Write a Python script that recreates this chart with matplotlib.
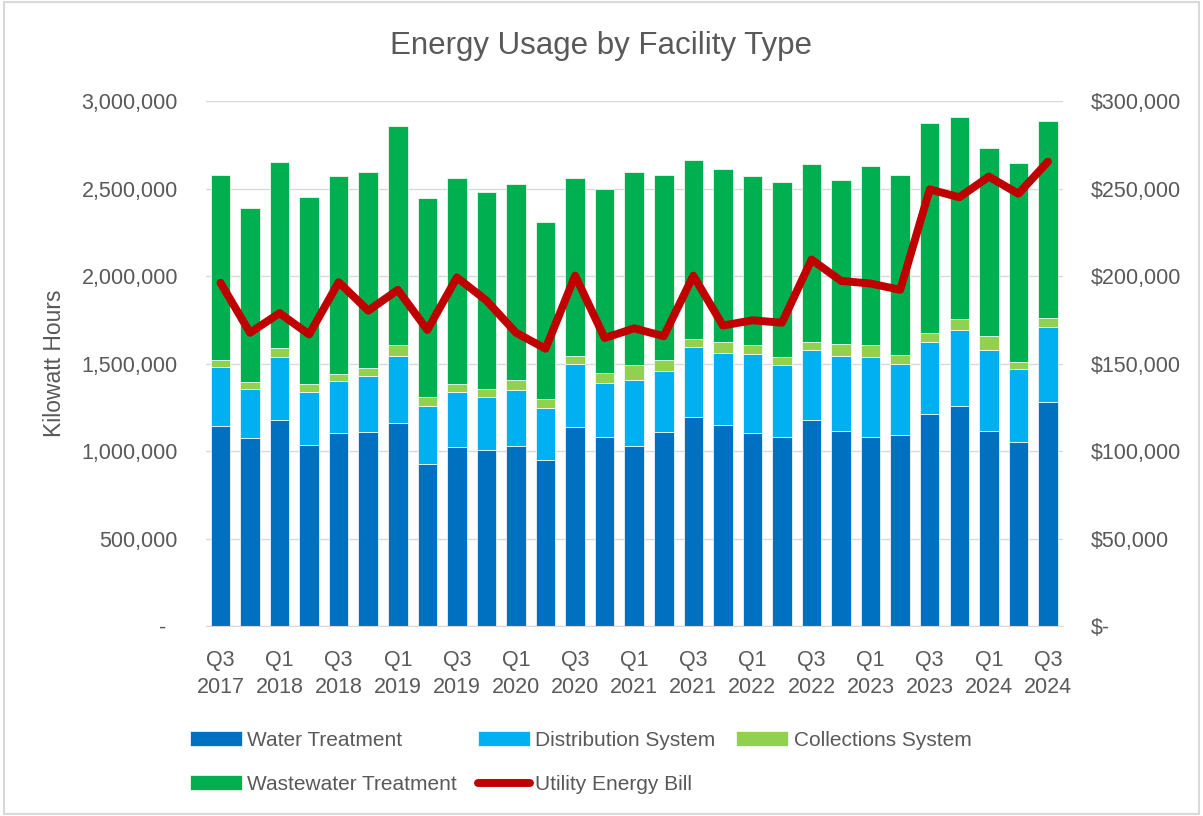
import numpy as np
import matplotlib.pyplot as plt
from matplotlib.patches import Rectangle
from matplotlib.ticker import FuncFormatter

plt.rcParams['font.family'] = ['Liberation Sans', 'DejaVu Sans']

# Quarters Q3 2017 .. Q3 2024
quarters = []
for year in range(2017, 2025):
    for q in range(1, 5):
        if (year == 2017 and q < 3) or (year == 2024 and q > 3):
            continue
        quarters.append(f"Q{q}\n{year}")

# kWh by facility type
water_treatment = [1141000, 1073000, 1175000, 1033000, 1102000, 1108000, 1159000, 927000,
                   1022000, 1004000, 1027000, 947000, 1137000, 1082000, 1027000, 1108000,
                   1194000, 1147000, 1102000, 1079000, 1175000, 1112000, 1079000, 1094000,
                   1212000, 1257000, 1116000, 1051000, 1283000]
distribution = [338000, 283000, 365000, 303000, 297000, 320000, 385000, 328000,
                318000, 304000, 324000, 297000, 362000, 305000, 381000, 350000,
                399000, 411000, 450000, 412000, 401000, 432000, 460000, 401000,
                413000, 432000, 464000, 415000, 428000]
collections = [41000, 41000, 51000, 45000, 41000, 49000, 61000, 53000,
               45000, 49000, 57000, 53000, 45000, 61000, 81000, 63000,
               49000, 63000, 55000, 47000, 47000, 67000, 67000, 51000,
               51000, 67000, 79000, 45000, 51000]
wastewater = [1057000, 990000, 1059000, 1073000, 1130000, 1116000, 1253000, 1136000,
              1177000, 1122000, 1118000, 1014000, 1016000, 1047000, 1106000, 1059000,
              1020000, 988000, 965000, 998000, 1016000, 939000, 1020000, 1029000,
              1200000, 1151000, 1075000, 1132000, 1122000]

# Utility bill in dollars
energy_bill = [196100, 167600, 178800, 166600, 196500, 180200, 192100, 169200,
               199200, 186000, 167600, 158500, 200200, 164600, 170100, 165600,
               200200, 171700, 174700, 173300, 209400, 197200, 195700, 192100,
               249500, 245000, 256800, 247000, 265400]

text_color = '#595959'
grid_color = '#D9D9D9'

fig = plt.figure(figsize=(12.03, 8.16), dpi=100)
ax = fig.add_axes([0.171, 0.2328, 0.7124, 0.6434])
ax2 = ax.twinx()

x = np.arange(len(quarters))
w = 0.66
bottom = np.zeros(len(x))
bars = []
for vals, color, label in [(water_treatment, '#0070C0', 'Water Treatment'),
                           (distribution, '#00B0F0', 'Distribution System'),
                           (collections, '#92D050', 'Collections System'),
                           (wastewater, '#00B050', 'Wastewater Treatment')]:
    b = ax.bar(x, vals, w, bottom=bottom, color=color, edgecolor='white',
               linewidth=0.5, label=label)
    bars.append(b)
    bottom += np.array(vals)

line, = ax2.plot(x, energy_bill, color='#C00000', lw=5.7,
                 solid_joinstyle='round', solid_capstyle='round',
                 label='Utility Energy Bill')

ax.set_xlim(-0.5, len(x) - 0.5)
ax.set_ylim(0, 3000000)
ax2.set_ylim(0, 300000)
ax.set_yticks(np.arange(0, 3000001, 500000))
ax2.set_yticks(np.arange(0, 300001, 50000))
ax.yaxis.set_major_formatter(FuncFormatter(lambda v, p: '-  ' if v == 0 else f'{v:,.0f}'))
ax2.yaxis.set_major_formatter(FuncFormatter(lambda v, p: '$-' if v == 0 else f'${v:,.0f}'))

ax.set_xticks(x[::2])
ax.set_xticklabels(quarters[::2], linespacing=1.4)

ax.set_axisbelow(True)
ax.grid(axis='y', color=grid_color, lw=1.0)
for a in (ax, ax2):
    for s in a.spines.values():
        s.set_visible(False)
ax.spines['bottom'].set_visible(True)
ax.spines['bottom'].set_color(grid_color)

ax.tick_params(axis='both', length=0, labelsize=15.5, colors=text_color)
ax.tick_params(axis='y', pad=20)
ax.tick_params(axis='x', pad=17)
ax2.tick_params(axis='y', length=0, labelsize=15.5, colors=text_color, pad=20)

ax.set_ylabel('Kilowatt Hours', fontsize=16.5, color=text_color)
ax.yaxis.set_label_coords(-0.163, 0.5)

fig.text(0.5, 1 - 46 / 816, 'Energy Usage by Facility Type', ha='center', va='center',
         fontsize=22.5, color=text_color)

handles = [bars[0], bars[3], bars[1], line, bars[2]]
labels = [h.get_label() for h in handles]
fig.legend(handles, labels, ncol=3, loc='upper left', bbox_to_anchor=(190 / 1203, 1 - 731 / 816),
           frameon=False, fontsize=15, labelcolor=text_color, handlelength=2.5,
           handleheight=0.7, handletextpad=0.25, columnspacing=1.0, labelspacing=1.2,
           borderpad=0, borderaxespad=0)

fig.patches.append(Rectangle((0.003, 0.003), 0.994, 0.994, transform=fig.transFigure,
                             fill=False, edgecolor=grid_color, lw=1.5))

fig.savefig('out.png', dpi=100)
